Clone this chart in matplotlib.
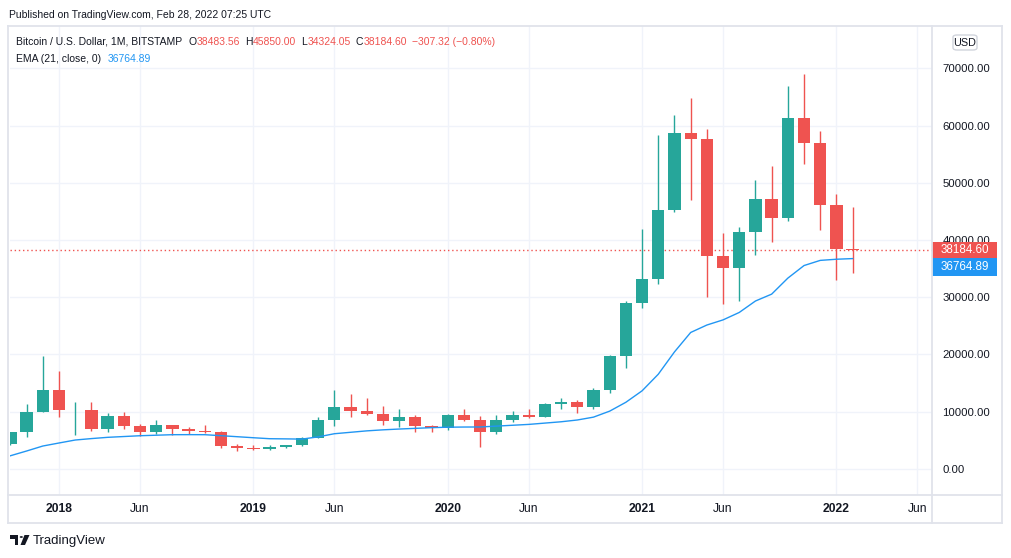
import matplotlib.pyplot as plt
from matplotlib.patches import Rectangle, FancyBboxPatch, Polygon, Circle
from matplotlib.lines import Line2D

W, H = 1012, 558

# monthly BTC/USD (Bitstamp), Oct 2017 .. Feb 2022
months = ['2017-10', '2017-11', '2017-12',
          '2018-01', '2018-02', '2018-03', '2018-04', '2018-05', '2018-06',
          '2018-07', '2018-08', '2018-09', '2018-10', '2018-11', '2018-12',
          '2019-01', '2019-02', '2019-03', '2019-04', '2019-05', '2019-06',
          '2019-07', '2019-08', '2019-09', '2019-10', '2019-11', '2019-12',
          '2020-01', '2020-02', '2020-03', '2020-04', '2020-05', '2020-06',
          '2020-07', '2020-08', '2020-09', '2020-10', '2020-11', '2020-12',
          '2021-01', '2021-02', '2021-03', '2021-04', '2021-05', '2021-06',
          '2021-07', '2021-08', '2021-09', '2021-10', '2021-11', '2021-12',
          '2022-01', '2022-02']
opens = [4340, 6440, 9950,
         13850, 10220, 10330, 6925, 9240, 7495,
         6390, 7730, 7017, 6626, 6371, 4040,
         3742, 3437, 3824, 4102, 5320, 8557,
         10820, 10080, 9580, 8290, 9150, 7540,
         7190, 9350, 8530, 6410, 8630, 9450,
         9140, 11340, 11650, 10780, 13800, 19700,
         28950, 33110, 45170, 58800, 57700, 37300,
         35040, 41490, 47100, 43820, 61300, 56900,
         46200, 38483.56]
highs = [6470, 11400, 19666,
         17176, 11780, 11700, 9765, 10000, 7777,
         8507, 7760, 7410, 7680, 6580, 4410,
         4109, 4200, 4140, 5600, 9080, 13880,
         13130, 12330, 10940, 10500, 9500, 7750,
         9570, 10500, 9190, 9460, 10070, 10390,
         11440, 12470, 12060, 14100, 19850, 29300,
         41950, 58350, 61780, 64900, 59500, 41300,
         42300, 50500, 52900, 67000, 69000, 59050,
         47990, 45850.00]
lows = [4110, 5500, 9900,
        9035, 5873, 6600, 6430, 7032, 5755,
        6070, 5880, 6100, 6200, 3652, 3122,
        3349, 3390, 3680, 4070, 5330, 7450,
        9070, 9350, 7710, 7300, 6520, 6430,
        6860, 8460, 3850, 6150, 8130, 8880,
        8990, 10550, 9850, 10400, 13200, 17600,
        28150, 32300, 44950, 47000, 30000, 28800,
        29300, 37330, 39600, 43300, 53250, 41800,
        32950, 34324.05]
closes = [6440, 9950, 13850,
          10220, 10330, 6925, 9240, 7495, 6390,
          7730, 7017, 6626, 6371, 4040, 3742,
          3437, 3824, 4102, 5320, 8557, 10820,
          10080, 9580, 8290, 9150, 7540, 7190,
          9350, 8530, 6410, 8630, 9450, 9140,
          11340, 11650, 10780, 13800, 19700, 28950,
          33110, 45170, 58800, 57700, 37300, 35040,
          41490, 47100, 43820, 61300, 56900, 46200,
          38483.56, 38184.60]
ema21 = [2300, 3130, 4000,
         4530, 5050, 5300, 5520, 5660, 5800,
         5890, 5980, 5990, 5980, 5810, 5630,
         5450, 5280, 5250, 5210, 5600, 6150,
         6400, 6650, 6830, 6970, 7090, 7210,
         7290, 7320, 7330, 7480, 7630, 7780,
         8010, 8240, 8550, 9050, 10100, 11650,
         13650, 16550, 20450, 23850, 25150, 26050,
         27350, 29350, 30550, 33350, 35550, 36450,
         36650, 36764.89]

tick_months = ['2018-01', '2018-06', '2019-01', '2019-06', '2020-01',
               '2020-06', '2021-01', '2021-06', '2022-01', '2022-06']
tick_labels = ['2018', 'Jun', '2019', 'Jun', '2020', 'Jun', '2021', 'Jun', '2022', 'Jun']
price_ticks = [0, 10000, 20000, 30000, 40000, 50000, 60000, 70000]

UP = '#26a69a'
DOWN = '#ef5350'
EMA_C = '#2196f3'
TXT = '#131722'
GRID = '#f0f3fa'
FRAME = '#e0e3eb'

plt.rcParams['font.family'] = ['Liberation Sans', 'DejaVu Sans']


def fx(x):
    return x / W


def fy(y):
    return 1 - y / H


def month_index(m):
    y, mo = m.split('-')
    return (int(y) - 2017) * 12 + int(mo) - 10


fig = plt.figure(figsize=(W / 100, H / 100), dpi=100)
fig.patch.set_facecolor('white')
renderer = fig.canvas.get_renderer()

ax = fig.add_axes([fx(10), fy(495), (932 - 10) / W, (495 - 26) / H])
ax.set_facecolor('white')

xs = list(range(len(months)))
for i in xs:
    col = UP if closes[i] >= opens[i] else DOWN
    ax.vlines(i, lows[i], highs[i], color=col, lw=1, zorder=3)
    lo = min(opens[i], closes[i])
    hi = max(opens[i], closes[i])
    ax.bar(i, max(hi - lo, 150), bottom=lo, width=0.76, color=col, lw=0, zorder=4)

ax.plot(xs, ema21, color=EMA_C, lw=1, zorder=5)
ax.axhline(closes[-1], color=DOWN, lw=1, linestyle=(0, (1, 2)), zorder=2)

ax.set_xlim(-0.025, 56.9)
ax.set_ylim(-4560, 77420)

ax.set_xticks([month_index(m) for m in tick_months])
ax.set_xticklabels(tick_labels)
for lab in ax.get_xticklabels():
    if lab.get_text() != 'Jun':
        lab.set_fontweight('bold')
ax.set_yticks(price_ticks)
ax.set_yticklabels(['%.2f' % v for v in price_ticks])
ax.yaxis.tick_right()
ax.tick_params(axis='y', length=0, pad=7.5, labelsize=8.2, labelcolor=TXT)
ax.tick_params(axis='x', length=0, pad=6, labelsize=8.7, labelcolor=TXT)
ax.grid(True, color=GRID, lw=1, zorder=0)
ax.set_axisbelow(True)
for s in ax.spines.values():
    s.set_visible(False)

# frame around chart, price scale and time scale
for (x0, y0, x1, y1) in [(8, 26, 1002, 26), (8, 523, 1002, 523), (8, 26, 8, 523),
                         (1002, 26, 1002, 523), (932, 26, 932, 523), (8, 495, 1002, 495)]:
    fig.add_artist(Line2D([fx(x0), fx(x1)], [fy(y0), fy(y1)], color=FRAME, lw=1.3))

# header
fig.text(fx(9), fy(15), 'Published on TradingView.com, Feb 28, 2022 07:25 UTC',
         fontsize=7.45, color=TXT, va='center', ha='left')


def text_run(x, y, pieces, size):
    # pieces: (text, colour, gap after in px)
    for s, c, gap in pieces:
        t = fig.text(fx(x), fy(y), s, fontsize=size, color=c, va='center', ha='left')
        bb = t.get_window_extent(renderer=renderer)
        x = bb.x1 + gap


text_run(16, 42, [('Bitcoin / U.S. Dollar, 1M, BITSTAMP', TXT, 6),
                  ('O', TXT, 0.5), ('38483.56', DOWN, 5),
                  ('H', TXT, 0.5), ('45850.00', DOWN, 5),
                  ('L', TXT, 0.5), ('34324.05', DOWN, 5),
                  ('C', TXT, 0.5), ('38184.60', DOWN, 5),
                  ('\u2212307.32 (\u22120.80%)', DOWN, 0)], 7.5)
text_run(16, 59, [('EMA (21, close, 0)', TXT, 7),
                  ('36764.89', EMA_C, 0)], 7.45)

# USD button
fig.add_artist(FancyBboxPatch((fx(953), fy(50)), fx(24), 15 / H,
                              boxstyle='round,pad=0,rounding_size=0.004',
                              fc='white', ec='#d1d4dc', lw=1))
fig.text(fx(965), fy(42.5), 'USD', fontsize=7.8, color=TXT, ha='center', va='center')

# price scale labels
fig.add_artist(Rectangle((fx(932), fy(258)), fx(65), 16 / H, fc=DOWN, ec='none'))
fig.text(fx(964.5), fy(250), '%.2f' % closes[-1], fontsize=8.4, color='white',
         ha='center', va='center')
fig.add_artist(Rectangle((fx(932), fy(276)), fx(65), 18 / H, fc=EMA_C, ec='none'))
fig.text(fx(964.5), fy(267), '%.2f' % ema21[-1], fontsize=8.4, color='white',
         ha='center', va='center')

# footer logo
fig.add_artist(Polygon([(fx(10), fy(535)), (fx(18.5), fy(535)), (fx(18.5), fy(545)),
                        (fx(15), fy(545)), (fx(15), fy(538.5)), (fx(10), fy(538.5))],
                       closed=True, fc=TXT, ec='none'))
fig.add_artist(Circle((fx(21.3), fy(537)), 1.6 / W, fc=TXT, ec='none'))
fig.add_artist(Polygon([(fx(24.5), fy(535)), (fx(29.5), fy(535)), (fx(25), fy(545)),
                        (fx(20.5), fy(545))], closed=True, fc=TXT, ec='none'))
fig.text(fx(33), fy(541), 'TradingView', fontsize=9.5, color=TXT, va='center', ha='left')

fig.savefig('out.png', dpi=100, facecolor='white')
